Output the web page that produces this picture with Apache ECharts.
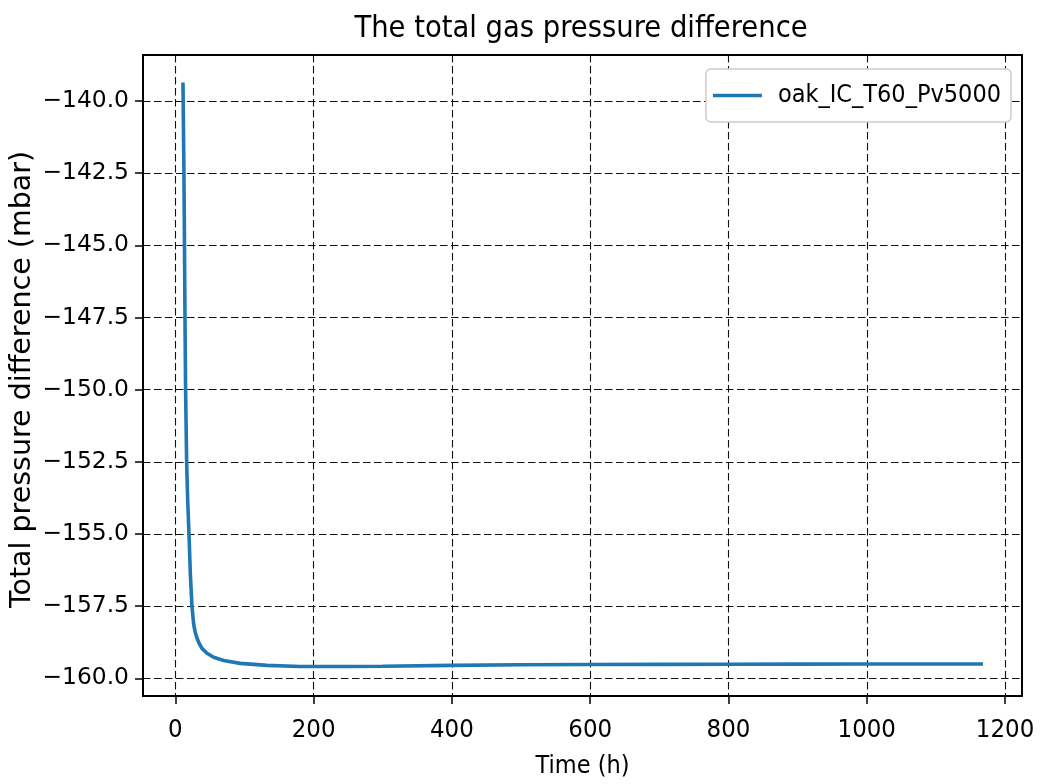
<!DOCTYPE html>
<html>
<head>
<meta charset="utf-8">
<script src="https://cdn.jsdelivr.net/npm/echarts@6/dist/echarts.min.js"></script>
<style>html,body{margin:0;padding:0;background:#fff}#c{width:1042px;height:784px}</style>
</head>
<body>
<div id="c"></div>
<script>
const seriesName = 'oak_IC_T60_Pv5000';
const timeHours = [11.1, 12.5, 13.3, 14.0, 14.9, 16.4, 18.0, 19.8, 21.8, 24.1, 26.5, 28.8, 31.3, 34.8, 38.6, 45.8, 55.4, 69.9, 94, 132.6, 180.7, 250, 300, 400, 500, 600, 700, 800, 900, 1000, 1100, 1168];
const pressureDiff = [-139.36, -142.5, -145.0, -147.5, -150.0, -152.5, -153.9, -155.0, -156.4, -157.5, -158.11, -158.4, -158.60, -158.8, -158.96, -159.13, -159.27, -159.38, -159.48, -159.55, -159.59, -159.59, -159.58, -159.55, -159.53, -159.52, -159.515, -159.51, -159.505, -159.5, -159.5, -159.5];
const xTicks = [0, 200, 400, 600, 800, 1000, 1200];
const yTicks = [-160, -157.5, -155, -152.5, -150, -147.5, -145, -142.5, -140];

const narrow = "'DejaVu Sans Condensed', 'Liberation Sans Narrow', sans-serif";
const dejavu = "'DejaVu Sans', sans-serif";
const gridLine = { show: true, lineStyle: { color: '#111', width: 1.1, type: [7.5, 3.5] } };

const chart = echarts.init(document.getElementById('c'), null, { renderer: 'canvas' });
chart.setOption({
  animation: false,
  backgroundColor: '#fff',
  title: {
    text: 'The total gas pressure difference',
    left: 576, top: 9, textAlign: 'center',
    textStyle: { fontFamily: narrow, fontSize: 30.5, fontWeight: 'normal', color: '#000' }
  },
  legend: {
    right: 31, top: 69,
    data: [seriesName],
    icon: 'rect', itemWidth: 49, itemHeight: 3.6,
    backgroundColor: '#fff', borderColor: '#ccc', borderWidth: 1.5, borderRadius: 5,
    padding: [14, 10, 14, 7],
    textStyle: { fontFamily: narrow, fontSize: 25, color: '#000', padding: [0, 0, 0, 11] }
  },
  grid: { left: 143, right: 20, top: 55, bottom: 88, outerBoundsMode: 'none', containLabel: false, show: true, borderColor: '#000', borderWidth: 2, backgroundColor: 'transparent' },
  xAxis: {
    type: 'value', min: -46.7, max: 1224.5,
    name: 'Time (h)', nameLocation: 'middle', nameGap: 58,
    nameTextStyle: { fontFamily: narrow, fontSize: 25, color: '#000' },
    axisLine: { show: true, onZero: false, lineStyle: { color: '#000', width: 2 } },
    axisTick: { show: true, length: 8, inside: false, customValues: xTicks, lineStyle: { color: '#000', width: 1.5 } },
    axisLabel: { customValues: xTicks, margin: 21, fontFamily: narrow, fontSize: 25.5, color: '#000', formatter: v => String(v) },
    splitLine: gridLine
  },
  yAxis: {
    type: 'value', min: -160.61, max: -138.41,
    name: 'Total pressure difference (mbar)', nameLocation: 'middle', nameGap: 106, nameRotate: 90,
    nameMoveOverlap: false,
    nameTextStyle: { fontFamily: dejavu, fontSize: 28.5, color: '#000', padding: [0, 8, 0, 0] },
    axisLine: { show: true, onZero: false, lineStyle: { color: '#000', width: 2 } },
    axisTick: { show: true, length: 8, inside: false, customValues: yTicks, lineStyle: { color: '#000', width: 1.5 } },
    axisLabel: {
      customValues: yTicks, margin: 14, fontFamily: dejavu, fontSize: 23.4, color: '#000',
      formatter: v => (v < 0 ? '\u2212' : '') + Math.abs(v).toFixed(1)
    },
    splitLine: gridLine
  },
  series: [{
    name: seriesName, type: 'line',
    data: timeHours.map((t, i) => [t, pressureDiff[i]]),
    showSymbol: false, symbol: 'none', smooth: false,
    lineStyle: { color: '#1f77b4', width: 3.6 },
    itemStyle: { color: '#1f77b4' },
    z: 5
  }]
});
</script>
</body>
</html>
